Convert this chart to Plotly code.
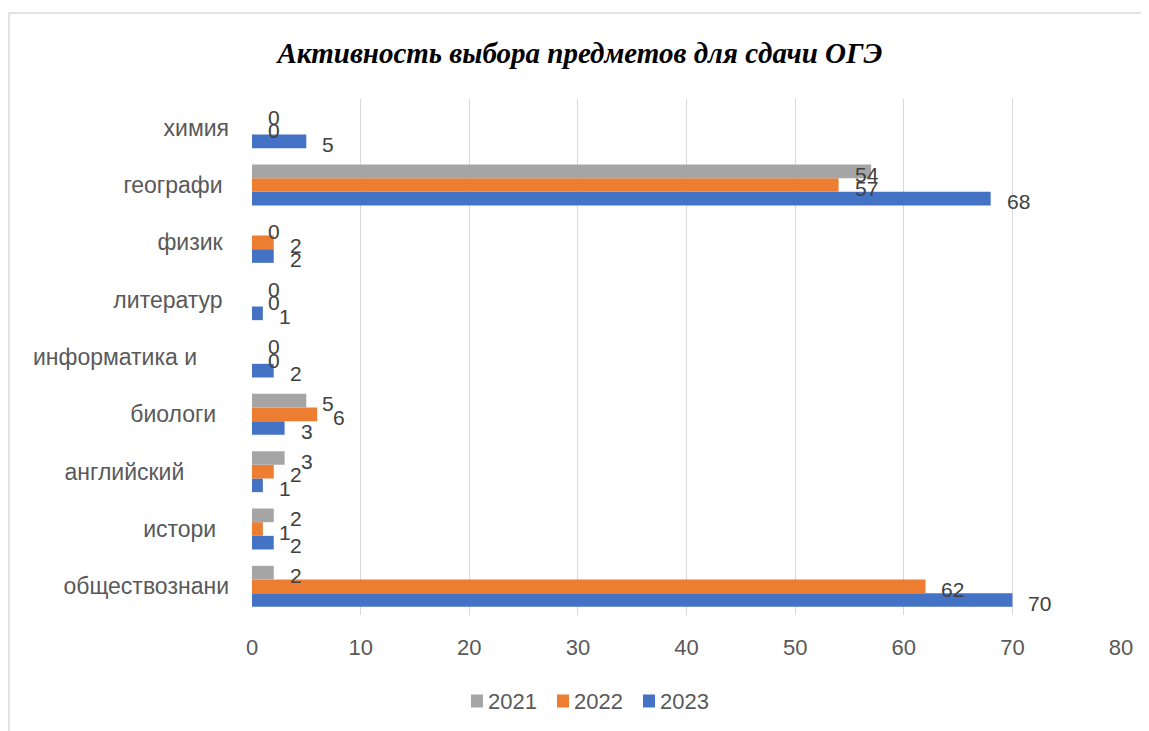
import plotly.graph_objects as go

# ---------------- data ----------------
categories = ["обществознани", "истори", "английский", "биологи", "информатика и",
              "литератур", "физик", "географи", "химия"]
years = ["2023", "2022", "2021"]
v2023 = [70, 2, 1, 3, 2, 1, 2, 68, 5]
v2022 = [62, 1, 2, 6, 0, 0, 2, 54, 0]
v2021 = [2, 2, 3, 5, 0, 0, 0, 57, 0]
# data labels as printed on the chart
lab2023 = ["70", "2", "1", "3", "2", "1", "2", "68", "5"]
lab2022 = ["62", "1", "2", "6", "0", "0", "2", "57", "0"]
lab2021 = ["2", "2", "3", "5", "0", "0", "0", "54", "0"]
x_ticks = [0, 10, 20, 30, 40, 50, 60, 70, 80]

series_vals = [v2023, v2022, v2021]
series_labs = [lab2023, lab2022, lab2021]
colors = ["#4472C4", "#ED7D31", "#A5A5A5"]

# labels that sit away from their bar end in the reference (series, category) -> x anchor
label_anchor = {("2021", "географи"): 54, ("2022", "географи"): 54}

# ---------------- layout constants (page pixels) ----------------
OFF = 8                      # default body margin of the page
VW, VH = 1149, 731
W, H = VW - OFF, VH - OFF    # figure size
PL, PR, PT, PB = 252, 1121, 99, 615   # plot area in page pixels
pw, ph = PR - PL, PB - PT
BARGAP = 0.285
bw = (1 - BARGAP) / 3


def cx(px):  # page x -> container fraction
    return (px - OFF) / W


def cy(py):  # page y -> container fraction (from bottom)
    return 1 - (py - OFF) / H


def px_x(px):  # page x -> paper fraction
    return (px - PL) / pw


def px_y(py):  # page y -> paper fraction
    return (PB - py) / ph


# trailing padding (non-breaking spaces) of category labels, as in reference
pad = {"обществознани": 0, "истори": 2, "английский": 7, "биологи": 2,
       "информатика и": 5, "литератур": 1, "физик": 1, "географи": 1, "химия": 0}

fig = go.Figure()
idx = list(range(len(categories)))
for name, vals, col in zip(years, series_vals, colors):
    fig.add_trace(go.Bar(y=idx, x=vals, name=name, orientation="h",
                         marker=dict(color=col, line=dict(width=0)),
                         hoverinfo="x+name", showlegend=False))

annotations = []
for k, (name, vals, labs) in enumerate(zip(years, series_vals, series_labs)):
    for i, (v, t) in enumerate(zip(vals, labs)):
        xa = label_anchor.get((name, categories[i]), v)
        annotations.append(dict(x=xa, y=i + (k - 1) * bw, xref="x", yref="y",
                                text=t, showarrow=False, xanchor="left",
                                yanchor="middle", xshift=14, yshift=-3,
                                font=dict(family="Liberation Sans, Arial", size=21,
                                          color="#404040")))

# manual legend (2021, 2022, 2023 left to right)
shapes = []
LEG_X0, LEG_PITCH, LEG_Y, SQ = 471, 86, 701, 12
for j, (name, col) in enumerate(reversed(list(zip(years, colors)))):
    x0 = LEG_X0 + j * LEG_PITCH
    shapes.append(dict(type="rect", xref="paper", yref="paper",
                       x0=px_x(x0), x1=px_x(x0 + SQ),
                       y0=px_y(LEG_Y + 6.5), y1=px_y(LEG_Y - 6.5),
                       fillcolor=col, line=dict(width=0)))
    annotations.append(dict(x=px_x(x0 + SQ + 3), y=px_y(LEG_Y), xref="paper",
                            yref="paper", text=name, showarrow=False,
                            xanchor="left", yanchor="middle",
                            font=dict(family="Liberation Sans, Arial", size=22,
                                      color="#595959")))

# outer frame (top and left edges visible in the reference)
shapes.append(dict(type="rect", xref="paper", yref="paper",
                   x0=px_x(9), x1=px_x(1170), y0=px_y(760), y1=px_y(13),
                   line=dict(color="#D9D9D9", width=1.5), layer="below"))

fig.update_layout(
    width=W, height=H,
    margin=dict(l=PL - OFF, r=VW - PR, t=PT - OFF, b=VH - PB, pad=0),
    paper_bgcolor="white", plot_bgcolor="white",
    barmode="group", bargap=BARGAP, bargroupgap=0,
    title=dict(text="<b><i>Активность выбора предметов для сдачи ОГЭ</i></b>",
               x=cx(580), xref="container", xanchor="center",
               y=cy(53), yref="container", yanchor="middle",
               font=dict(family="Liberation Serif, Times New Roman", size=29,
                         color="black")),
    xaxis=dict(range=[0, 80], tickvals=x_ticks, showgrid=True,
               gridcolor="#D9D9D9", gridwidth=1.3, zeroline=False,
               showline=False, ticks="", ticklabelstandoff=17,
               tickfont=dict(family="Liberation Sans, Arial", size=22,
                             color="#595959"), fixedrange=True),
    yaxis=dict(range=[-0.5, len(categories) - 0.5], tickvals=idx,
               ticktext=[c + "\u00a0" * pad[c] for c in categories],
               showgrid=False, zeroline=False, showline=False, ticks="",
               ticklabelstandoff=22,
               tickfont=dict(family="Liberation Sans, Arial", size=23,
                             color="#595959"), fixedrange=True),
    annotations=annotations,
    shapes=shapes,
    showlegend=False,
)

fig.write_html("out.html")
